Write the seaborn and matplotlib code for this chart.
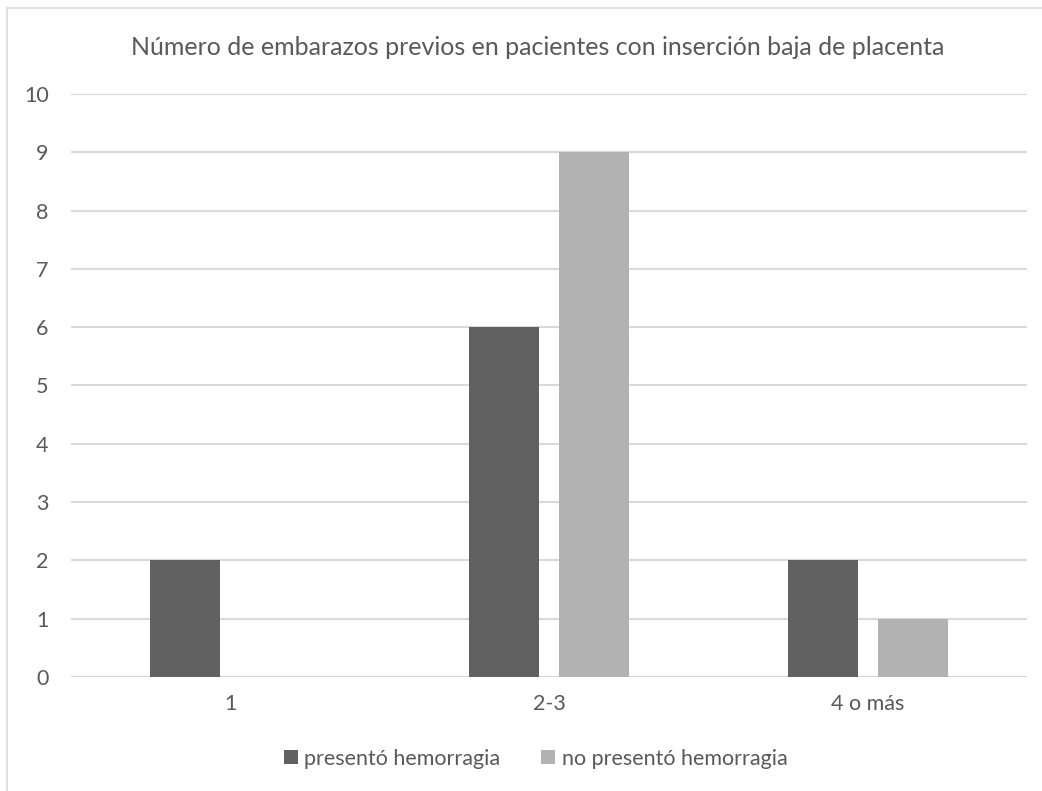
import matplotlib
matplotlib.use("Agg")
import matplotlib.pyplot as plt
import seaborn as sns
import pandas as pd
from matplotlib.patches import Patch
from matplotlib.lines import Line2D

categories = ["1", "2-3", "4 o más"]
series_names = ["presentó hemorragia", "no presentó hemorragia"]
hemorragia = [2, 6, 2]
sin_hemorragia = [0, 9, 1]
y_ticks = list(range(0, 11))
title = "Número de embarazos previos en pacientes con inserción baja de placenta"

colors = ["#616161", "#b2b2b2"]
text_color = "#595959"
grid_color = "#d9d9d9"

df = pd.DataFrame({
    "categoria": categories * 2,
    "serie": [series_names[0]] * 3 + [series_names[1]] * 3,
    "valor": hemorragia + sin_hemorragia,
})

sns.set_theme(style="white")
plt.rcParams["font.family"] = ["Lato", "DejaVu Sans"]

fig = plt.figure(figsize=(10.42, 7.91), dpi=100)
ax = fig.add_axes([0.0681, 0.1441, 0.9175, 0.7371])

sns.barplot(data=df, x="categoria", y="valor", hue="serie", order=categories,
            hue_order=series_names, palette=colors, width=0.565, gap=0.22,
            saturation=1, linewidth=0, legend=False, ax=ax)

ax.set_ylim(0, 10)
ax.set_xlim(-0.5, 2.5)
ax.set_yticks(y_ticks)
ax.set_yticklabels([str(t) for t in y_ticks])
ax.yaxis.grid(True, color=grid_color, linewidth=1.5)
ax.set_axisbelow(True)
for s in ax.spines.values():
    s.set_visible(False)
ax.axhline(0, color=grid_color, linewidth=1.7, zorder=0.5)
ax.tick_params(axis="both", length=0, labelsize=15.5, labelcolor=text_color)
ax.tick_params(axis="y", pad=16)
ax.tick_params(axis="x", pad=12)
ax.set_xlabel("")
ax.set_ylabel("")

fig.text(0.516, 0.940, title, ha="center", va="center", fontsize=18, color=text_color)

handles = [Patch(facecolor=c, edgecolor="none") for c in colors]
fig.legend(handles, series_names, loc="center", bbox_to_anchor=(0.514, 0.041),
           ncol=2, frameon=False, fontsize=15.5, labelcolor=text_color,
           handlelength=0.65, handleheight=0.65, handletextpad=0.3, columnspacing=1.9)

# chart frame (top and left edges)
fig.add_artist(Line2D([7 / 1042, 1.0], [1 - 8 / 791, 1 - 8 / 791], color="#d9d9d9",
                      linewidth=1.2, transform=fig.transFigure))
fig.add_artist(Line2D([7 / 1042, 7 / 1042], [0.0, 1 - 8 / 791], color="#d9d9d9",
                      linewidth=1.2, transform=fig.transFigure))

fig.savefig("out.png", dpi=100, facecolor="white")
